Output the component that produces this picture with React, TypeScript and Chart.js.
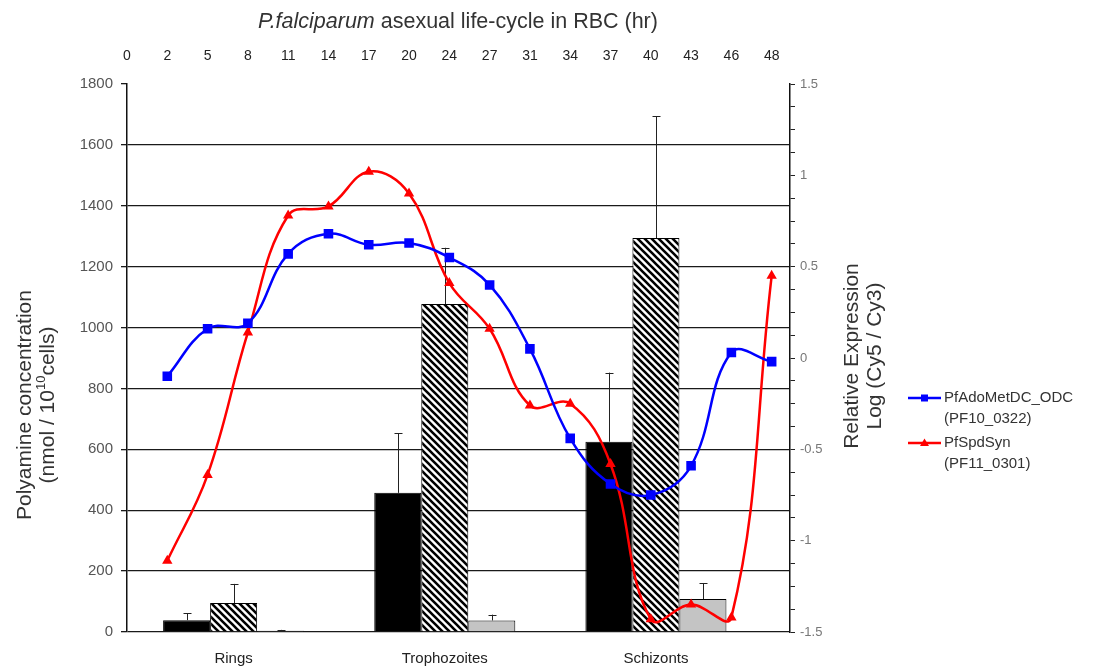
import React, { useEffect, useRef } from "react";
import { Chart, registerables, BarController } from "chart.js";

Chart.register(...registerables);
// The bars live on their own x axis while the lines use another one; keep the
// bar groups sized by the bar axis alone.
(BarController.prototype as any)._getAxisCount = function () {
  return 1;
};

const FONT = "'Liberation Sans', Arial, Helvetica, sans-serif";

const hours = ["0", "2", "5", "8", "11", "14", "17", "20", "24", "27", "31", "34", "37", "40", "43", "46", "48"];
const adoMetDC = [-0.1, 0.16, 0.19, 0.57, 0.68, 0.62, 0.63, 0.55, 0.4, 0.05, -0.44, -0.69, -0.75, -0.59, 0.03, -0.02];
const spdSyn = [-1.11, -0.64, 0.14, 0.78, 0.83, 1.02, 0.9, 0.41, 0.16, -0.26, -0.25, -0.58, -1.43, -1.35, -1.42, 0.45];

const stages = ["Rings", "Trophozoites", "Schizonts"];
const blackBars = [39, 457, 625];
const blackErr = [23, 196, 227];
const hatchedBars = [95, 1077, 1294];
const hatchedErr = [63, 185, 400];
const grayBars = [4, 38, 108];
const grayErr = [3, 19, 53];

const rightLabels = ["-1.5", "-1", "-0.5", "0", "0.5", "1", "1.5"];

function makeHatch(): CanvasPattern | string {
  const c = document.createElement("canvas");
  c.width = 7;
  c.height = 7;
  const g = c.getContext("2d");
  if (!g) return "#888";
  g.fillStyle = "#fff";
  g.fillRect(0, 0, 7, 7);
  g.strokeStyle = "#000";
  g.lineWidth = 2.6;
  g.beginPath();
  for (const o of [-7, 0, 7]) {
    g.moveTo(o - 1, -1);
    g.lineTo(o + 8, 8);
  }
  g.stroke();
  return g.createPattern(c, "repeat") || "#888";
}

const errorBarPlugin = {
  id: "errorBars",
  afterDatasetDraw(chart: any, args: any) {
    const ds = chart.data.datasets[args.index];
    if (!ds.errors) return;
    const ctx = chart.ctx;
    const y = chart.scales.y;
    ctx.save();
    ctx.strokeStyle = "#222";
    ctx.lineWidth = 1;
    args.meta.data.forEach((bar: any, i: number) => {
      const v = ds.data[i].y + ds.errors[i];
      const top = y.getPixelForValue(v);
      const bx = Math.round(bar.x) + 0.5;
      ctx.beginPath();
      ctx.moveTo(bx, bar.y);
      ctx.lineTo(bx, top);
      ctx.moveTo(bx - 4, Math.round(top) + 0.5);
      ctx.lineTo(bx + 4, Math.round(top) + 0.5);
      ctx.stroke();
    });
    ctx.restore();
  },
};

const decorPlugin = {
  id: "decor",
  afterDraw(chart: any) {
    const ctx: CanvasRenderingContext2D = chart.ctx;
    ctx.save();
    ctx.textBaseline = "middle";
    ctx.fillStyle = "#333";

    const it = "P.falciparum";
    const rest = " asexual life-cycle in RBC (hr)";
    ctx.font = `italic 21.5px ${FONT}`;
    const w1 = ctx.measureText(it).width;
    ctx.font = `21.5px ${FONT}`;
    const w2 = ctx.measureText(rest).width;
    const x0 = 458 - (w1 + w2) / 2;
    ctx.textAlign = "left";
    ctx.font = `italic 21.5px ${FONT}`;
    ctx.fillText(it, x0, 22);
    ctx.font = `21.5px ${FONT}`;
    ctx.fillText(rest, x0 + w1, 22);

    ctx.save();
    ctx.translate(25, 405);
    ctx.rotate(-Math.PI / 2);
    ctx.textAlign = "center";
    ctx.font = `21px ${FONT}`;
    ctx.fillText("Polyamine concentration", 0, 0);
    ctx.restore();

    ctx.save();
    ctx.translate(48, 405);
    ctx.rotate(-Math.PI / 2);
    ctx.textAlign = "left";
    const a = "(nmol / 10";
    const sup = "10";
    const b = "cells)";
    ctx.font = `21px ${FONT}`;
    const wa = ctx.measureText(a).width;
    const wb = ctx.measureText(b).width;
    ctx.font = `13px ${FONT}`;
    const ws = ctx.measureText(sup).width;
    const sx = -(wa + ws + wb) / 2;
    ctx.font = `21px ${FONT}`;
    ctx.fillText(a, sx, 0);
    ctx.font = `13px ${FONT}`;
    ctx.fillText(sup, sx + wa, -7);
    ctx.font = `21px ${FONT}`;
    ctx.fillText(b, sx + wa + ws, 0);
    ctx.restore();

    ctx.save();
    ctx.translate(852, 356);
    ctx.rotate(-Math.PI / 2);
    ctx.textAlign = "center";
    ctx.font = `21px ${FONT}`;
    ctx.fillText("Relative Expression", 0, 0);
    ctx.fillText("Log (Cy5 / Cy3)", 0, 23);
    ctx.restore();

    const items = [
      { color: "#0000ff", marker: "square", l1: "PfAdoMetDC_ODC", l2: "(PF10_0322)", y: 398 },
      { color: "#ff0000", marker: "triangle", l1: "PfSpdSyn", l2: "(PF11_0301)", y: 443 },
    ];
    items.forEach((it2) => {
      ctx.strokeStyle = it2.color;
      ctx.fillStyle = it2.color;
      ctx.lineWidth = 2.5;
      ctx.beginPath();
      ctx.moveTo(908, it2.y);
      ctx.lineTo(941, it2.y);
      ctx.stroke();
      if (it2.marker === "square") {
        ctx.fillRect(921, it2.y - 3.5, 7, 7);
      } else {
        ctx.beginPath();
        ctx.moveTo(924.5, it2.y - 4.5);
        ctx.lineTo(929, it2.y + 3);
        ctx.lineTo(920, it2.y + 3);
        ctx.closePath();
        ctx.fill();
      }
      ctx.fillStyle = "#333";
      ctx.textAlign = "left";
      ctx.font = `15px ${FONT}`;
      ctx.fillText(it2.l1, 944, it2.y);
      ctx.fillText(it2.l2, 944, it2.y + 21);
    });

    ctx.restore();
  },
};

export default function App() {
  const ref = useRef<HTMLCanvasElement | null>(null);

  useEffect(() => {
    if (!ref.current) return;
    const hatch = makeHatch();

    const lineData = (vals: number[]) => vals.map((v, i) => ({ x: i + 1, y: v }));
    const barData = (vals: number[]) => vals.map((v, i) => ({ x: i, y: v }));

    const barCommon = {
      type: "bar" as const,
      xAxisID: "xBar",
      yAxisID: "y",
      categoryPercentage: 0.668,
      barPercentage: 1,
      order: 2,
    };

    const chart = new Chart(ref.current, {
      type: "bar",
      data: {
        datasets: [
          { ...barCommon, label: "black", data: barData(blackBars), errors: blackErr, backgroundColor: "#000", borderColor: "#000", borderWidth: 1 } as any,
          { ...barCommon, label: "hatched", data: barData(hatchedBars), errors: hatchedErr, backgroundColor: hatch, borderColor: "#000", borderWidth: 1 } as any,
          { ...barCommon, label: "gray", data: barData(grayBars), errors: grayErr, backgroundColor: "#c4c4c4", borderColor: "#000", borderWidth: 1 } as any,
          {
            type: "line",
            label: "PfAdoMetDC_ODC (PF10_0322)",
            data: lineData(adoMetDC),
            xAxisID: "x",
            yAxisID: "y2",
            borderColor: "#0000ff",
            backgroundColor: "#0000ff",
            borderWidth: 2.5,
            pointStyle: "rect",
            pointRadius: 5,
            tension: 0.4,
            order: 0,
          } as any,
          {
            type: "line",
            label: "PfSpdSyn (PF11_0301)",
            data: lineData(spdSyn),
            xAxisID: "x",
            yAxisID: "y2",
            borderColor: "#ff0000",
            backgroundColor: "#ff0000",
            borderWidth: 2.5,
            pointStyle: "triangle",
            pointRadius: 3.5,
            tension: 0.4,
            order: 1,
          } as any,
        ],
      },
      options: {
        responsive: false,
        animation: false,
        devicePixelRatio: 1,
        layout: { padding: 0 },
        plugins: { legend: { display: false }, tooltip: { enabled: false } },
        scales: {
          x: {
            type: "linear",
            position: "top",
            min: 0,
            max: 16.455,
            offset: false,
            afterBuildTicks: (s: any) => {
              s.ticks = hours.map((_, i) => ({ value: i }));
            },
            afterFit: (s: any) => {
              s.height = 84;
            },
            grid: { display: false, drawTicks: false, offset: false },
            border: { display: false },
            ticks: {
              padding: 19,
              maxRotation: 0,
              autoSkip: false,
              color: "#222",
              font: { family: FONT, size: 14 },
              callback: (v: any) => hours[Math.round(Number(v))] ?? "",
            },
          },
          xBar: {
            type: "linear",
            position: "bottom",
            min: -0.505,
            max: 2.635,
            offset: false,
            afterBuildTicks: (s: any) => {
              s.ticks = stages.map((_, i) => ({ value: i }));
            },
            afterFit: (s: any) => {
              s.height = 36;
            },
            grid: { display: false, drawTicks: false, offset: false },
            border: { display: false },
            ticks: {
              padding: 18,
              maxRotation: 0,
              autoSkip: false,
              color: "#222",
              font: { family: FONT, size: 15 },
              callback: (v: any) => stages[Math.round(Number(v))] ?? "",
            },
          },
          y: {
            type: "linear",
            position: "left",
            min: 0,
            max: 1800,
            afterFit: (s: any) => {
              s.width = 127;
            },
            grid: {
              color: (c: any) => (c.tick && c.tick.value === 1800 ? "rgba(0,0,0,0)" : "#1a1a1a"),
              lineWidth: 1.3,
              tickLength: 6,
              tickColor: "#1a1a1a",
            },
            border: { display: true, color: "#111", width: 1.5 },
            ticks: {
              stepSize: 200,
              padding: 8,
              color: "#555",
              font: { family: FONT, size: 15 },
              callback: (v: any) => String(v),
            },
          },
          y2: {
            type: "linear",
            position: "right",
            min: -1.5,
            max: 1.5,
            afterBuildTicks: (s: any) => {
              const t: any[] = [];
              for (let k = 0; k <= 24; k++) t.push({ value: -1.5 + k * 0.125 });
              s.ticks = t;
            },
            afterFit: (s: any) => {
              s.width = 303;
            },
            grid: { drawOnChartArea: false, tickLength: 5, tickColor: "#222", lineWidth: 1 },
            border: { display: true, color: "#111", width: 1.5 },
            ticks: {
              padding: 5,
              autoSkip: false,
              color: "#777",
              font: { family: FONT, size: 13 },
              callback: (v: any) => {
                const n = Number(v);
                const idx = Math.round((n + 1.5) * 2);
                return Math.abs(n * 2 - Math.round(n * 2)) < 1e-6 ? rightLabels[idx] : "";
              },
            },
          },
        },
      },
      plugins: [errorBarPlugin, decorPlugin],
    } as any);

    return () => chart.destroy();
  }, []);

  return (
    <div style={{ position: "fixed", left: 0, top: 0, width: 1093, height: 668, background: "#fff" }}>
      <canvas ref={ref} width={1093} height={668} style={{ width: 1093, height: 668, display: "block" }} />
    </div>
  );
}
